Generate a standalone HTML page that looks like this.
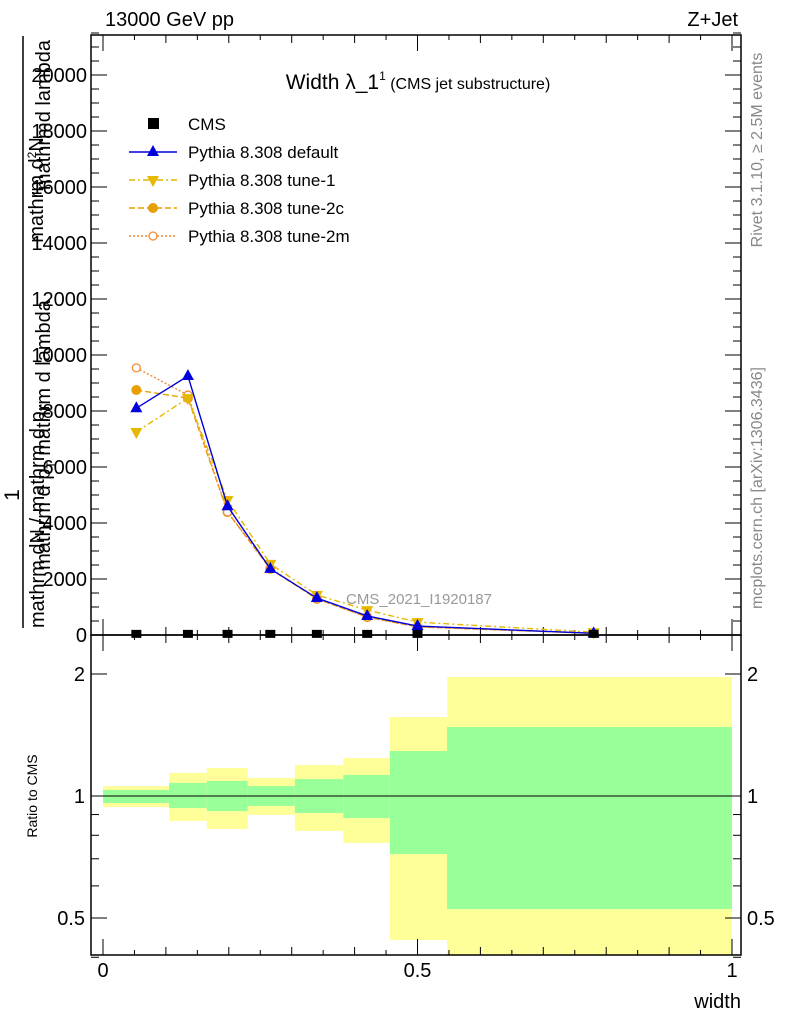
<!DOCTYPE html>
<html><head><meta charset="utf-8"><style>
html,body{margin:0;padding:0;background:#fff;}
svg{display:block;font-family:"Liberation Sans",sans-serif;}
</style></head><body>
<svg id="chart" width="786" height="1024" viewBox="0 0 786 1024">
<g id="ratio-bands"></g>
<g id="ratio-frame"></g>
<g id="main"></g>
<text x="105" y="26" font-size="20">13000 GeV pp</text>
<text x="738" y="26" font-size="20" text-anchor="end">Z+Jet</text>
<text x="418" y="89" font-size="21" text-anchor="middle">Width λ_1<tspan font-size="12" dy="-9">1</tspan><tspan font-size="16" dy="9"> (CMS jet substructure)</tspan></text>
<text x="492" y="604" font-size="15" fill="#999" text-anchor="end">CMS_2021_I1920187</text>
<text transform="translate(762,150) rotate(-90)" font-size="16" fill="#888" text-anchor="middle">Rivet 3.1.10, ≥ 2.5M events</text>
<text transform="translate(762,488) rotate(-90)" font-size="16" fill="#888" text-anchor="middle">mcplots.cern.ch [arXiv:1306.3436]</text>
<g>
<text transform="translate(19,495) rotate(-90)" font-size="21" text-anchor="middle">1</text>
<line x1="23" y1="36" x2="23" y2="628" stroke="#000" stroke-width="1.5"/>
<text transform="translate(43,190) rotate(-90)" font-size="20" text-anchor="middle">mathrm d<tspan font-size="12" dy="-7">2</tspan><tspan dy="7">N</tspan></text>
<text transform="translate(50,435) rotate(-90)" font-size="20" text-anchor="middle">mathrm d p<tspan font-size="12" dy="5">T</tspan><tspan dy="-5"> mathrm d lambda</tspan></text>
<text transform="translate(50,40) rotate(-90)" font-size="20" text-anchor="end">mathrmd lambda</text>
<text transform="translate(44,628) rotate(-90)" font-size="20" text-anchor="start">mathrm dN / mathrm d p<tspan font-size="12" dy="5">T</tspan></text>
</g>
<text transform="translate(37,796) rotate(-90)" font-size="14" text-anchor="middle">Ratio to CMS</text>
<text x="741" y="1008" font-size="20" text-anchor="end">width</text>
<g id="legend"></g>
</svg>
<script>
const binEdges=[0,0.105,0.165,0.23,0.305,0.382,0.456,0.547,1.0];
const xPoints=[0.053,0.135,0.198,0.266,0.34,0.42,0.5,0.78];
const cmsValues=[40,40,40,40,40,40,40,40];
const defaultValues=[8100,9250,4600,2360,1320,680,320,60];
const tune1Values=[7250,8460,4820,2540,1430,890,460,100];
const tune2cValues=[8750,8460,4390,2360,1290,640,290,60];
const tune2mValues=[9540,8570,4390,2390,1290,640,290,60];
const yellowUp=[1.058,1.14,1.172,1.108,1.192,1.241,1.566,1.966];
const yellowDown=[0.939,0.868,0.829,0.898,0.82,0.766,0.441,0.3];
const greenUp=[1.035,1.077,1.089,1.058,1.101,1.127,1.291,1.48];
const greenDown=[0.961,0.934,0.918,0.945,0.908,0.882,0.719,0.526];
const yTicks=[0,2000,4000,6000,8000,10000,12000,14000,16000,18000,20000];
const xTickLabels=[0,0.5,1];
const rTickLabels=[0.5,1,2];

const NS="http://www.w3.org/2000/svg";
const L=91,R=741,T=35,MB=635,RB=955;
const X=v=>103+v*629;
const Y=v=>635-v*0.028;
const RY=v=>796-Math.log2(v)*122;
function mk(p,tag,a){const e=document.createElementNS(NS,tag);for(const k in a)e.setAttribute(k,a[k]);p.appendChild(e);return e;}
const main=document.getElementById('main'),rb=document.getElementById('ratio-bands'),rf=document.getElementById('ratio-frame');

const clip=mk(document.getElementById('chart'),'clipPath',{id:'rc'});
mk(clip,'rect',{x:L,y:MB,width:R-L,height:RB-MB});
rb.setAttribute('clip-path','url(#rc)');
for(let i=0;i<binEdges.length-1;i++){
 const x1=X(binEdges[i]),x2=X(binEdges[i+1]);
 const y=mk(rb,'rect',{x:x1,y:RY(yellowUp[i]),width:x2-x1,height:RY(yellowDown[i])-RY(yellowUp[i]),fill:'#ffff99'});
 
 
 const g=mk(rb,'rect',{x:x1,y:RY(greenUp[i]),width:x2-x1,height:RY(greenDown[i])-RY(greenUp[i]),fill:'#99ff99'});
 
 
}
mk(rf,'line',{x1:L,y1:RY(1),x2:R,y2:RY(1),stroke:'#000','stroke-width':1});
mk(main,'rect',{x:L,y:T,width:R-L,height:MB-T,fill:'none',stroke:'#000','stroke-width':1.5});
mk(rf,'rect',{x:L,y:MB,width:R-L,height:RB-MB,fill:'none',stroke:'#000','stroke-width':1.5});
for(let v=0;v<=21500;v+=500){const y=Y(v);const maj=v%2000===0;const len=maj?16:8;
 mk(main,'line',{x1:L,y1:y,x2:L+len,y2:y,stroke:'#000'});mk(main,'line',{x1:R,y1:y,x2:R-len,y2:y,stroke:'#000'});}
yTicks.forEach(v=>{const t=mk(main,'text',{x:L-4,y:Y(v)+7,'font-size':20,'text-anchor':'end'});t.textContent=v;
 
 });
for(let k=0;k<=10;k++){const v=k/10,x=X(v),maj=k%5===0,len=maj?16:8;
 [[MB,-1],[T,1],[RB,-1],[MB,1]].forEach(([y0,d])=>mk(main,'line',{x1:x,y1:y0,x2:x,y2:y0+d*len,stroke:'#000'}));}
for(let k=0;k<10;k++){const x=X(k/10+0.05);[[MB,-1],[T,1],[RB,-1],[MB,1]].forEach(([y0,d])=>mk(main,'line',{x1:x,y1:y0,x2:x,y2:y0+d*5,stroke:'#000'}));}
xTickLabels.forEach(v=>{const t=mk(main,'text',{x:X(v),y:977,'font-size':20,'text-anchor':'middle'});t.textContent=v;
 
 });
[0.4,0.5,0.6,0.7,0.8,0.9,1,2].forEach(v=>{const y=RY(v),maj=rTickLabels.includes(v),len=maj?16:8;
 mk(rf,'line',{x1:L,y1:y,x2:L+len,y2:y,stroke:'#000'});mk(rf,'line',{x1:R,y1:y,x2:R-len,y2:y,stroke:'#000'});});
rTickLabels.forEach(v=>{[[L-6,'end'],[R+6,'start']].forEach(([x,a])=>{const t=mk(rf,'text',{x:x,y:RY(v)+7,'font-size':20,'text-anchor':a});t.textContent=v;
 
 });});

function line(vals,color,dash,name){const g=mk(main,'g',{});
 
 
 mk(g,'polyline',{points:vals.map((v,i)=>X(xPoints[i])+','+Y(v)).join(' '),fill:'none',stroke:color,'stroke-width':1.4,'stroke-dasharray':dash});return g;}
function tri(g,x,y,c,up){mk(g,'polygon',{points:up?`${x},${y-7} ${x-6},${y+4} ${x+6},${y+4}`:`${x},${y+7} ${x-6},${y-4} ${x+6},${y-4}`,fill:c});}
const g2c=line(tune2cValues,'#e8a000','6,3','series-tune-2c');
tune2cValues.forEach((v,i)=>mk(g2c,'circle',{cx:X(xPoints[i]),cy:Y(v),r:5,fill:'#e8a000'}));
const g2m=line(tune2mValues,'#f08c30','2,2','series-tune-2m');
tune2mValues.forEach((v,i)=>mk(g2m,'circle',{cx:X(xPoints[i]),cy:Y(v),r:4,fill:'#fff',stroke:'#f08c30','stroke-width':1.3}));
const g1=line(tune1Values,'#e6b800','6,3,2,3','series-tune-1');
tune1Values.forEach((v,i)=>tri(g1,X(xPoints[i]),Y(v),'#e6b800',false));
const gd=line(defaultValues,'#0000dd','','series-default');
defaultValues.forEach((v,i)=>tri(gd,X(xPoints[i]),Y(v),'#0000dd',true));
const gc=mk(main,'g',{});


cmsValues.forEach((v,i)=>mk(gc,'rect',{x:X(xPoints[i])-5,y:Y(v)-4,width:10,height:8,fill:'#000'}));

const lg=document.getElementById('legend');
const items=[['CMS','#000','',null],['Pythia 8.308 default','#0000dd','','tu'],['Pythia 8.308 tune-1','#e6b800','6,3,2,3','td'],['Pythia 8.308 tune-2c','#e8a000','6,3','c'],['Pythia 8.308 tune-2m','#f08c30','2,2','o']];
items.forEach((it,i)=>{const y=124+i*28;const g=mk(lg,'g',{});
 
 
 if(i===0){mk(g,'rect',{x:148,y:y-6,width:11,height:11,fill:'#000'});}
 else{mk(g,'line',{x1:129,y1:y,x2:177,y2:y,stroke:it[1],'stroke-width':1.4,'stroke-dasharray':it[2]});
  if(it[3]==='tu')tri(g,153,y,it[1],true);else if(it[3]==='td')tri(g,153,y,it[1],false);
  else if(it[3]==='c')mk(g,'circle',{cx:153,cy:y,r:5,fill:it[1]});
  else mk(g,'circle',{cx:153,cy:y,r:4,fill:'#fff',stroke:it[1],'stroke-width':1.3});}
 const t=mk(g,'text',{x:188,y:y+6,'font-size':17});t.textContent=it[0];});
</script>
</body></html>
